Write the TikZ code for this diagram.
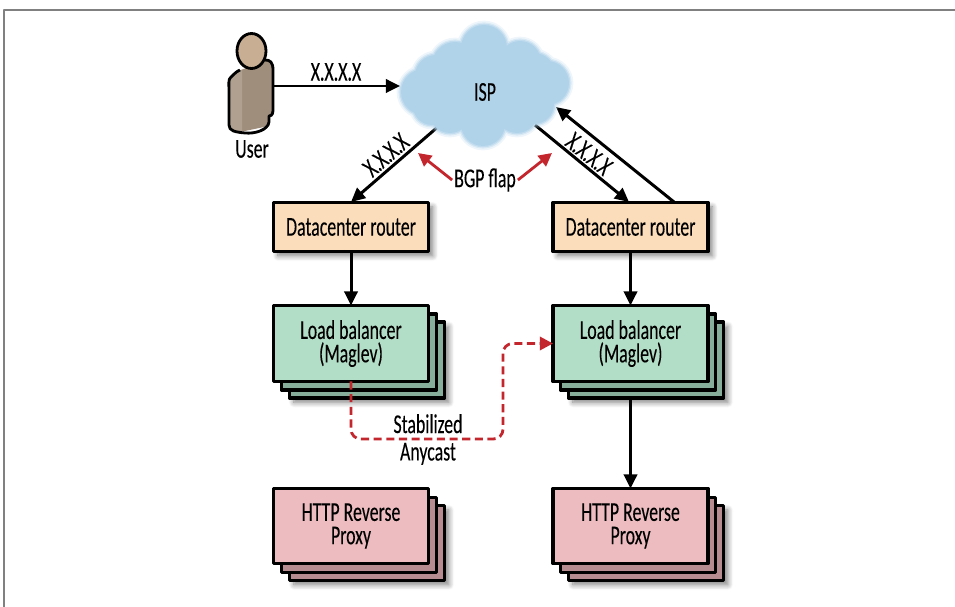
\documentclass[tikz,border=0pt]{standalone}
\usepackage{fontspec}
\setmainfont[FakeStretch=0.655,FakeBold=0.12]{Carlito}
\usepackage{pgf,tikz}
\usetikzlibrary{arrows.meta}
\usetikzlibrary{shadows.blur}

\definecolor{framegray}{HTML}{808080}
\definecolor{ispblue}{HTML}{B1D3EA}
\definecolor{flapred}{HTML}{C4262E}
\definecolor{routerfill}{HTML}{FBDDBB}
\definecolor{lbfill}{HTML}{B2DDC6}
\definecolor{lbback}{HTML}{86AE9B}
\definecolor{proxyfill}{HTML}{EDBCC0}
\definecolor{proxyback}{HTML}{B68C90}
\definecolor{userskin}{HTML}{C8AE93}
\definecolor{userbody}{HTML}{A08E7C}
\definecolor{userside}{HTML}{B0A08F}

\tikzset{
  softshadow/.style={blur shadow={shadow xshift=2.5pt,shadow yshift=-2.5pt,shadow blur steps=8,shadow blur radius=3pt,shadow opacity=50}},
  box/.style={draw=black,line width=1.9pt,inner sep=0pt,outer sep=0pt,minimum width=3.1cm,align=center},
  router/.style={box,fill=routerfill,minimum height=0.98cm,softshadow},
  lb/.style={box,fill=lbfill,minimum height=1.52cm},
  lbrear/.style={lb,fill=lbback},
  proxy/.style={box,fill=proxyfill,minimum height=1.5cm},
  proxyrear/.style={proxy,fill=proxyback},
  link/.style={-{Triangle[length=8pt,width=7.5pt]},line width=1.7pt,black},
  flap/.style={-{Triangle[length=7.5pt,width=7.5pt]},line width=1.6pt,flapred},
  txt/.style={inner sep=0.5pt}
}
\def\isplobes{(484,48) circle (23) (455,65) circle (23) (520,62) circle (21) (547,83) circle (22)
  (424,92) circle (23) (450,112) circle (21) (483,124) circle (22) (517,112) circle (21)
  (436,76) circle (21) (534,74) circle (21) (432,106) circle (19) (534,104) circle (20) (485,88) circle (45)}

\begin{document}
\begin{tikzpicture}[line cap=butt,line join=round,x=0.02cm,y=-0.02cm,every node/.append style={font=\fontsize{15.5}{13.3}\selectfont}]
\useasboundingbox (0,0) rectangle (955,607);
\draw [framegray,line width=0.7pt] (4,607)-- (4,10)-- (955,10);

% rear layers first
\node [lbrear,softshadow] (lblb) at (367,360) {};
\node [lbrear] (lbla) at (359,352) {};
\node [lbrear,softshadow] (lbrb) at (646,360) {};
\node [lbrear] (lbra) at (638,352) {};
\node [proxyrear,softshadow] (pxlb) at (367,543) {};
\node [proxyrear] (pxla) at (359,535) {};
\node [proxyrear,softshadow] (pxrb) at (646,543) {};
\node [proxyrear] (pxra) at (638,535) {};

\node [router] (rtl) at (351,227) {Datacenter router};
\node [router] (rtr) at (630.5,227) {Datacenter router};
\node [lb] (lbl) at (351,343.5) {Load balancer\\(Maglev)};
\node [lb] (lbr) at (630.5,343.5) {Load balancer\\(Maglev)};
\node [proxy] (pxl) at (351,526) {HTTP Reverse\\Proxy};
\node [proxy] (pxr) at (630.5,526) {HTTP Reverse\\Proxy};

\coordinate (ispin) at (400,86);
\coordinate (ispsw) at (440,125);
\coordinate (ispse) at (535,125);
\coordinate (ispback) at (556,107);
\coordinate (rtlin) at (351,202);
\coordinate (rtrin) at (629,202);
\coordinate (rtrout) at (674,202);
\coordinate (flapl) at (418,153);
\coordinate (flapr) at (552,153);
\coordinate (stabb) at (351,439);
\coordinate (stabc) at (503,439);
\coordinate (stabd) at (503,343.5);

\draw [link] (ispsw)-- (rtlin);
\draw [link] (ispse)-- (rtrin);
\draw [link] (rtrout)-- (ispback);
\draw [link] (rtl.south)-- (lbl.north);
\draw [link] (rtr.south)-- (lbr.north);
\draw [link] (lbrb.south-|lbr.south)-- (pxr.north);
\draw [flap,dash pattern=on 4.6pt off 2.6pt,rounded corners=5.5pt] (lbl.south)-- (stabb)-- (stabc)-- (stabd)-- (lbr.west);

% cloud
\path [draw=ispblue,line width=5pt,opacity=0.2] \isplobes;
\path [draw=ispblue,line width=3pt,opacity=0.35] \isplobes;
\path [draw=ispblue,line width=1.5pt,opacity=0.6] \isplobes;
\path [fill=ispblue] \isplobes;

% user figure
\fill [userbody] (238,71)-- (268,60)-- (272,66)-- (272,113)-- (269,117)-- (269,126)-- (240,132)-- (229,129)-- (229,80)-- cycle;
\fill [userside] (242,70)-- (229,80)-- (229,129)-- (242,131)-- cycle;
\draw [line width=1.6pt] (240,70) .. controls (235,72) and (234,75) .. (231,77) .. controls (228,79) and (229,85) .. (229,90)-- (229,125) .. controls (229,131) and (235,132) .. (245,133) .. controls (255,134) and (268,130) .. (269,122)-- (269,116) .. controls (273,116) and (273,112) .. (273,108)-- (273,70) .. controls (273,62) and (270,60) .. (265,60);
\draw [fill=userskin,line width=1.6pt] (251.5,51) ellipse (14.5 and 17.5);

\node [inner sep=0pt,minimum width=0.88cm,minimum height=2cm] (person) at (251,86) {};
\draw [link] (person.east)-- (ispin);

\node [txt] (userlabel) at (252,149) {User};
\node [txt] (isp) at (485,92) {ISP};
\node [txt] (toplabel) at (336,72) {X.X.X.X};
\node [txt,rotate=41] (leftlabel) at (386,155) {X.X.X.X};
\node [txt,rotate=-39] (rightlabel) at (589,154) {X.X.X.X};
\node [txt,inner sep=1pt] (bgp) at (485,180) {BGP flap};
\draw [flap] (bgp.west)-- (flapl);
\draw [flap] (bgp.east)-- (flapr);
\node [txt,align=center] (stab) at (428,439.5) {Stabilized\\[2.3pt]Anycast};
\end{tikzpicture}
\end{document}
